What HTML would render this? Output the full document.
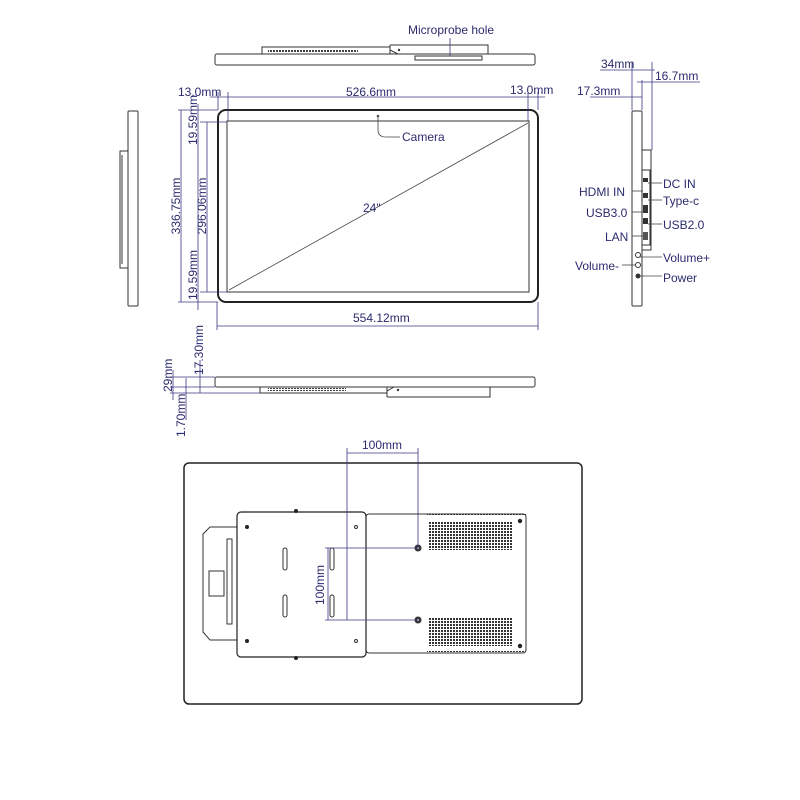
<!DOCTYPE html>
<html><head><meta charset="utf-8"><style>
body{margin:0;background:#fff}
svg{display:block}
text{font-family:"Liberation Sans",sans-serif;fill:#2b2b6e;font-size:12px}
.d{stroke:#3a3a85;stroke-width:0.8;fill:none}
.k{stroke:#333;stroke-width:1;fill:none}
</style></head><body>
<svg width="800" height="800" viewBox="0 0 800 800" xmlns="http://www.w3.org/2000/svg">
<defs>
<pattern id="g" width="3" height="3" patternUnits="userSpaceOnUse"><rect width="2" height="2" fill="#333"/></pattern>
<pattern id="gr" width="3" height="5" patternUnits="userSpaceOnUse"><rect width="2" height="4" fill="#444"/></pattern>
</defs>
<!-- top view -->
<rect class="k" x="215" y="54" width="320" height="11" rx="2"/>
<rect class="k" x="262" y="47" width="128" height="7"/>
<rect x="268" y="49" width="90" height="3" fill="url(#gr)"/>
<path class="k" d="M390 45 H488 V54 M390 45 V50 L398 54"/>
<rect class="k" x="415" y="56" width="67" height="4"/>
<circle cx="399" cy="50" r="1.2" fill="#333"/>
<text x="408" y="34" font-size="12">Microprobe hole</text>
<line class="d" x1="450" y1="38" x2="450" y2="56"/>
<!-- front -->
<rect x="218" y="110" width="320" height="192" rx="8" fill="none" stroke="#222" stroke-width="2"/>
<rect class="k" x="227" y="121" width="302" height="171" stroke-width="0.8"/>
<line x1="229" y1="290" x2="528" y2="123" stroke="#444" stroke-width="0.8"/>
<text x="363" y="212" font-size="12">24"</text>
<circle cx="378" cy="116" r="1.3" fill="#555"/>
<path d="M378 117 V130 Q378 137 386 137 H400" stroke="#444" stroke-width="0.8" fill="none"/>
<text x="402" y="141">Camera</text>
<!-- top dims -->
<line class="d" x1="210" y1="97" x2="545" y2="97"/>
<line class="d" x1="218" y1="92" x2="218" y2="110"/>
<line class="d" x1="228" y1="92" x2="228" y2="121"/>
<line class="d" x1="528" y1="92" x2="528" y2="121"/>
<line class="d" x1="538" y1="92" x2="538" y2="110"/>
<text x="178" y="96">13.0mm</text>
<text x="346" y="96">526.6mm</text>
<text x="510" y="94">13.0mm</text>
<!-- left dims -->
<line class="d" x1="178" y1="110" x2="218" y2="110"/>
<line class="d" x1="200" y1="122" x2="227" y2="122"/>
<line class="d" x1="200" y1="292" x2="227" y2="292"/>
<line class="d" x1="178" y1="302" x2="218" y2="302"/>
<line class="d" x1="181" y1="110" x2="181" y2="302"/>
<line class="d" x1="207" y1="122" x2="207" y2="292"/>
<line class="d" x1="198" y1="104" x2="198" y2="310"/>
<text transform="translate(180 206) rotate(-90)" text-anchor="middle">336.75mm</text>
<text transform="translate(206 206) rotate(-90)" text-anchor="middle">296.06mm</text>
<text transform="translate(197 145) rotate(-90)" text-anchor="start" font-size="11.5">19.59mm</text>
<text transform="translate(197 300) rotate(-90)" text-anchor="start" font-size="11.5">19.59mm</text>
<!-- bottom dim -->
<line class="d" x1="217" y1="302" x2="217" y2="330"/>
<line class="d" x1="538" y1="302" x2="538" y2="330"/>
<line class="d" x1="217" y1="326" x2="538" y2="326"/>
<text x="353" y="322">554.12mm</text>
<!-- left side view -->
<rect class="k" x="128" y="111" width="10" height="195" rx="1"/>
<rect class="k" x="120" y="151" width="8" height="117"/>
<line class="k" x1="122" y1="155" x2="122" y2="264"/>
<!-- bottom side view -->
<rect class="k" x="215" y="377" width="320" height="10" rx="2"/>
<rect class="k" x="260" y="387" width="127" height="6"/>
<rect x="268" y="388" width="78" height="3" fill="url(#gr)"/>
<path class="k" d="M387 397 V391 L394 387 M387 397 H490 V387"/>
<circle cx="398" cy="390" r="1.2" fill="#333"/>
<line class="d" x1="170" y1="377" x2="215" y2="377"/>
<line class="d" x1="170" y1="387" x2="215" y2="387"/>
<line class="d" x1="170" y1="393" x2="260" y2="393"/>
<line class="d" x1="200" y1="360" x2="200" y2="393"/>
<line class="d" x1="173" y1="370" x2="173" y2="400"/>
<line class="d" x1="186" y1="378" x2="186" y2="420"/>
<text transform="translate(172 392) rotate(-90)" font-size="11.5">29mm</text>
<text transform="translate(203 375) rotate(-90)" font-size="11.5">17.30mm</text>
<text transform="translate(185 437) rotate(-90)" font-size="11.5">1.70mm</text>
<!-- right side view -->
<rect class="k" x="632" y="111" width="10" height="195" rx="1"/>
<rect class="k" x="642" y="150" width="9" height="100"/>
<rect class="k" x="642" y="170" width="8" height="75"/>
<rect x="643" y="178" width="5" height="4" fill="#333"/>
<rect x="643" y="193" width="5" height="5" fill="#333"/>
<rect x="643" y="205" width="5" height="8" fill="#333"/>
<rect x="643" y="218" width="5" height="6" fill="#333"/>
<rect x="643" y="232" width="5" height="8" fill="#555"/>
<circle cx="638" cy="255" r="2.5" fill="none" stroke="#333"/>
<circle cx="638" cy="265" r="2.5" fill="none" stroke="#333"/>
<circle cx="638" cy="276" r="2.5" fill="#333"/>
<line class="d" x1="632" y1="62" x2="632" y2="110"/>
<line class="d" x1="642" y1="80" x2="642" y2="110"/>
<line class="d" x1="652" y1="62" x2="652" y2="150"/>
<line class="d" x1="600" y1="70" x2="655" y2="70"/>
<line class="d" x1="637" y1="82" x2="700" y2="82"/>
<line class="d" x1="590" y1="97" x2="642" y2="97"/>
<text x="601" y="68">34mm</text>
<text x="655" y="80">16.7mm</text>
<text x="577" y="95">17.3mm</text>
<g stroke="#444" stroke-width="0.8">
<line x1="648" y1="183" x2="662" y2="183"/>
<line x1="648" y1="200" x2="662" y2="200"/>
<line x1="648" y1="224" x2="662" y2="224"/>
<line x1="640" y1="257" x2="662" y2="257"/>
<line x1="640" y1="276" x2="662" y2="276"/>
<line x1="632" y1="191" x2="643" y2="191"/>
<line x1="632" y1="212" x2="643" y2="212"/>
<line x1="632" y1="236" x2="643" y2="236"/>
<line x1="622" y1="265" x2="636" y2="265"/>
</g>
<text x="663" y="188">DC IN</text>
<text x="663" y="205">Type-c</text>
<text x="663" y="229">USB2.0</text>
<text x="663" y="262">Volume+</text>
<text x="663" y="282">Power</text>
<text x="579" y="196">HDMI IN</text>
<text x="586" y="217">USB3.0</text>
<text x="605" y="241">LAN</text>
<text x="575" y="270">Volume-</text>
<!-- back view -->
<rect x="184" y="463" width="398" height="241" rx="5" fill="none" stroke="#222" stroke-width="1.5"/>
<path class="k" d="M237 527 H210 L203 534 V632 L210 640 H237"/>
<rect class="k" x="209" y="571" width="15" height="25"/>
<rect class="k" x="227" y="539" width="5" height="85"/>
<rect class="k" x="366" y="514" width="160" height="139" rx="3"/>
<rect x="237" y="512" width="129" height="145" rx="4" fill="#fff" stroke="#222" stroke-width="1.2"/>
<rect x="429" y="521" width="83" height="29" fill="url(#g)"/>
<rect x="429" y="617" width="83" height="29" fill="url(#g)"/>
<rect x="427" y="514" width="99" height="2" fill="url(#g)"/>
<rect x="427" y="650" width="99" height="2" fill="url(#g)"/>
<circle cx="247" cy="527" r="2" fill="#222"/>
<circle cx="247" cy="641" r="2" fill="#222"/>
<circle cx="356" cy="527" r="1.5" fill="none" stroke="#333"/>
<circle cx="356" cy="641" r="1.5" fill="none" stroke="#333"/>
<circle cx="520" cy="521" r="2.2" fill="#222"/>
<circle cx="520" cy="646" r="2.2" fill="#222"/>
<circle cx="296" cy="511" r="2" fill="#222"/>
<circle cx="296" cy="658" r="2" fill="#222"/>
<circle cx="418" cy="548" r="3.5" fill="#333"/><circle cx="418" cy="548" r="1.2" fill="#aaa"/>
<circle cx="418" cy="620" r="3.5" fill="#333"/><circle cx="418" cy="620" r="1.2" fill="#aaa"/>
<rect class="k" x="283" y="548" width="4" height="22" rx="2"/>
<rect class="k" x="283" y="595" width="4" height="22" rx="2"/>
<rect class="k" x="330" y="548" width="4" height="22" rx="2"/>
<rect class="k" x="330" y="595" width="4" height="22" rx="2"/>
<line class="d" x1="347" y1="448" x2="347" y2="620"/>
<line class="d" x1="418" y1="448" x2="418" y2="548"/>
<line class="d" x1="347" y1="453" x2="418" y2="453"/>
<line class="d" x1="325" y1="548" x2="418" y2="548"/>
<line class="d" x1="325" y1="620" x2="418" y2="620"/>
<line class="d" x1="328" y1="548" x2="328" y2="620"/>
<text x="362" y="449" font-size="13">100mm</text>
<text transform="translate(324 585) rotate(-90)" text-anchor="middle" font-size="13">100mm</text>
</svg>
</body></html>
